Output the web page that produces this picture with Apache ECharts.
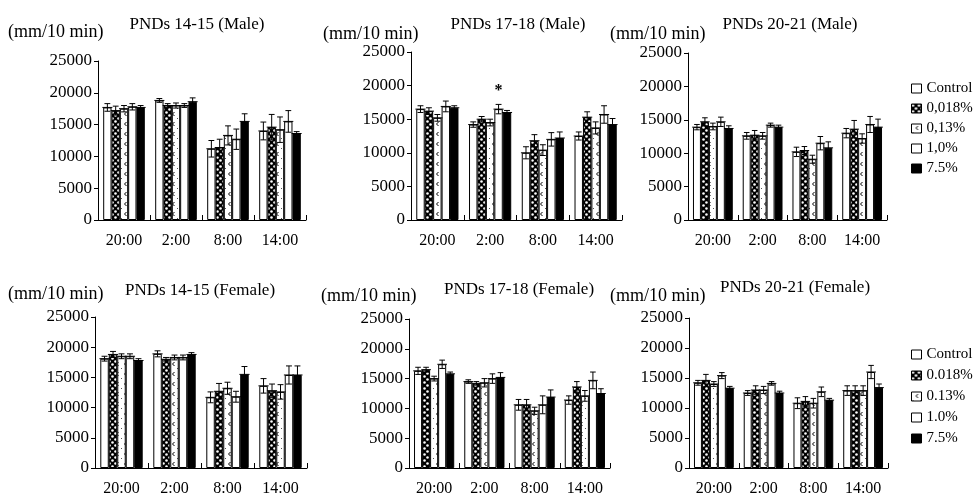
<!DOCTYPE html>
<html><head><meta charset="utf-8">
<script src="https://cdn.jsdelivr.net/npm/echarts@6/dist/echarts.min.js"></script>
<style>html,body{margin:0;padding:0;background:#fff}#c{width:974px;height:497px}</style>
</head><body><div id="c"></div>
<script>
const categories = ['20:00', '2:00', '8:00', '14:00'];
const groups = ['Control', '0.018%', '0.13%', '1.0%', '7.5%'];
const legendLabels = [['Control', '0,018%', '0,13%', '1,0%', '7.5%'], ['Control', '0.018%', '0.13%', '1.0%', '7.5%']];
const yMin = 0, yMax = 25000, yStep = 5000;
const unitLabel = '(mm/10 min)';
const panelTitles = ['PNDs 14-15 (Male)', 'PNDs 17-18 (Male)', 'PNDs 20-21 (Male)',
                     'PNDs 14-15 (Female)', 'PNDs 17-18 (Female)', 'PNDs 20-21 (Female)'];

// mean values: one row per group (Control, 0.018%, 0.13%, 1.0%, 7.5%), columns = categories
const male1415 = [
  [17700, 18800, 11200, 14000],
  [17200, 18000, 11400, 14600],
  [17500, 18000, 13300, 14200],
  [17800, 18000, 12700, 15500],
  [17700, 18600, 15500, 13600]];
const male1718 = [
  [16500, 14200, 10000, 12500],
  [16200, 15000, 11800, 15300],
  [15200, 14500, 10400, 13700],
  [16900, 16500, 12000, 15700],
  [16700, 16000, 12200, 14200]];
const male2021 = [
  [13900, 12600, 10200, 13000],
  [14700, 12700, 10400, 13600],
  [14000, 12600, 9100, 12200],
  [14700, 14200, 11500, 14300],
  [13700, 13900, 10800, 13900]];
const female1415 = [
  [18100, 18900, 11700, 13600],
  [18800, 18000, 12700, 12800],
  [18500, 18300, 13200, 12600],
  [18500, 18300, 11800, 15400],
  [17800, 18800, 15500, 15400]];
const female1718 = [
  [16300, 14500, 10600, 11400],
  [16500, 14200, 10600, 13600],
  [15000, 14300, 9600, 12100],
  [17400, 15000, 10600, 14700],
  [15800, 15200, 11900, 12500]];
const female2021 = [
  [14200, 12500, 10800, 12900],
  [14600, 13000, 11100, 12900],
  [14000, 13000, 10800, 12900],
  [15400, 14100, 12700, 16000],
  [13300, 12500, 11300, 13400]];

// error (SE) values, same shape
const male1415Err = [
  [600, 300, 1300, 1400], [700, 300, 1300, 2000], [500, 400, 1500, 2000], [500, 300, 1600, 1700], [300, 600, 1200, 300]];
const male1718Err = [
  [500, 400, 900, 600], [500, 400, 900, 800], [500, 500, 800, 900], [800, 700, 1000, 1300], [300, 300, 900, 900]];
const male2021Err = [
  [400, 500, 700, 700], [600, 700, 600, 1300], [500, 500, 600, 700], [700, 300, 1000, 1200], [400, 300, 900, 1200]];
const female1415Err = [
  [400, 500, 900, 1200], [500, 300, 1300, 1100], [400, 400, 1000, 1200], [400, 400, 900, 1500], [300, 300, 1300, 1500]];
const female1718Err = [
  [600, 300, 900, 700], [400, 300, 900, 900], [400, 700, 600, 900], [700, 800, 1500, 1400], [300, 800, 1200, 800]];
const female2021Err = [
  [400, 400, 900, 800], [1000, 700, 800, 800], [400, 600, 800, 800], [500, 300, 800, 1100], [300, 300, 300, 600]];

// significance marks: [panelIndex, categoryIndex, groupIndex]
const sigMarks = [[1, 1, 3]];

const panelValues = [male1415, male1718, male2021, female1415, female1718, female2021];
const panelErrors = [male1415Err, male1718Err, male2021Err, female1415Err, female1718Err, female2021Err];

// ---------- layout & styling ----------
const FONT = '"Liberation Serif", "DejaVu Serif", serif';
const grids = [
  {left: 98, top: 61, width: 208, height: 159},
  {left: 411, top: 52, width: 211, height: 168},
  {left: 688, top: 53, width: 199, height: 167},
  {left: 95, top: 317, width: 212, height: 153},
  {left: 409, top: 319, width: 201, height: 151},
  {left: 689, top: 318, width: 199, height: 152}];
const unitPos = [[8, 33], [323, 35], [610, 35], [8, 295], [321, 297], [610, 297]];
const titlePos = [[197, 25], [518, 25], [790, 25], [200, 291], [519, 290], [795, 288]];

function makePattern(kind) {
  const c = document.createElement('canvas');
  if (kind === 'dots') {
    c.width = 6; c.height = 6;
    const g = c.getContext('2d');
    g.fillStyle = '#000'; g.fillRect(0, 0, 6, 6);
    g.fillStyle = '#fff';
    g.beginPath(); g.arc(1.5, 1.5, 1.3, 0, Math.PI * 2); g.fill();
    g.beginPath(); g.arc(4.5, 4.5, 1.3, 0, Math.PI * 2); g.fill();
  } else {
    c.width = 8; c.height = 10;
    const g = c.getContext('2d');
    g.fillStyle = '#fff'; g.fillRect(0, 0, 8, 10);
    g.strokeStyle = '#000'; g.lineWidth = 1;
    g.beginPath(); g.moveTo(6.5, 2); g.lineTo(4.5, 4); g.lineTo(6.5, 6); g.stroke();
    g.fillStyle = '#555'; g.fillRect(1, 8, 1, 1);
  }
  return {image: c, repeat: 'repeat'};
}
const fills = ['#ffffff', makePattern('dots'), makePattern('marks'), '#ffffff', '#000000'];

const option = {
  animation: false,
  backgroundColor: '#fff',
  textStyle: {fontFamily: FONT, color: '#000'},
  grid: grids,
  xAxis: grids.map((g, i) => ({
    type: 'category', gridIndex: i, data: categories,
    axisLine: {lineStyle: {color: '#000', width: 1}},
    axisTick: {show: true, inside: true, length: 5, lineStyle: {color: '#000'}},
    axisLabel: {color: '#000', fontFamily: FONT, fontSize: 16, margin: 13},
    splitLine: {show: false}
  })),
  yAxis: grids.map((g, i) => ({
    type: 'value', gridIndex: i, min: yMin, max: yMax, interval: yStep,
    axisLine: {show: true, lineStyle: {color: '#000', width: 1}},
    axisTick: {show: true, length: 4, lineStyle: {color: '#000'}},
    axisLabel: {color: '#000', fontFamily: FONT, fontSize: 17, margin: 6, formatter: v => String(v)},
    splitLine: {show: false}
  })),
  legend: [0, 1].map(k => ({
    orient: 'vertical', left: 906, top: k === 0 ? 76 : 342,
    itemWidth: 10, itemHeight: 9, itemGap: k === 0 ? 5 : 6,
    icon: 'rect', selectedMode: false,
    data: groups,
    formatter: name => legendLabels[k][groups.indexOf(name)],
    textStyle: {fontFamily: FONT, fontSize: 15, color: '#000', padding: [0, 0, 0, 0]},
    itemStyle: {borderColor: '#000', borderWidth: 1}
  })),
  graphic: [],
  series: []
};

panelTitles.forEach((t, p) => {
  option.graphic.push({type: 'text', left: unitPos[p][0], top: unitPos[p][1] - 10,
    style: {text: unitLabel, font: '18px ' + FONT, fill: '#000'}});
  option.graphic.push({type: 'text', x: titlePos[p][0], y: titlePos[p][1],
    style: {text: t, font: '17px ' + FONT, fill: '#000', align: 'center', verticalAlign: 'middle'}});
});

panelValues.forEach((vals, p) => {
  groups.forEach((gname, s) => {
    option.series.push({
      type: 'bar', name: gname, xAxisIndex: p, yAxisIndex: p,
      barGap: '0%', barCategoryGap: '20%',
      itemStyle: {color: fills[s], borderColor: '#000', borderWidth: 1},
      data: vals[s].map((v, ci) => {
        const mark = sigMarks.find(m => m[0] === p && m[1] === ci && m[2] === s);
        if (!mark) return v;
        return {value: v, label: {show: true, position: 'top', distance: 10, formatter: '*',
          fontSize: 16, fontWeight: 'bold', color: '#000', fontFamily: FONT}};
      })
    });
  });
  const errData = [];
  vals.forEach((row, s) => row.forEach((v, ci) => errData.push([ci, v, s, panelErrors[p][s][ci]])));
  option.series.push({
    type: 'custom', xAxisIndex: p, yAxisIndex: p, silent: true, z: 5,
    encode: {x: 0, y: 1},
    data: errData,
    renderItem: (params, api) => {
      const ci = api.value(0), v = api.value(1), s = api.value(2), e = api.value(3);
      const band = api.size([1, 0])[0];
      const bw = band * 0.8 / 5;
      const base = api.coord([ci, v]);
      const x = base[0] + (s - 2) * bw;
      const yt = api.coord([ci, v + e])[1];
      const yb = api.coord([ci, v - e])[1];
      const cw = bw * 0.35;
      const ls = {stroke: '#000', lineWidth: 1};
      return {type: 'group', children: [
        {type: 'line', shape: {x1: x, y1: yt, x2: x, y2: yb}, style: ls},
        {type: 'line', shape: {x1: x - cw, y1: yt, x2: x + cw, y2: yt}, style: ls},
        {type: 'line', shape: {x1: x - cw, y1: yb, x2: x + cw, y2: yb}, style: ls},
        {type: 'line', shape: {x1: x - bw * 0.6, y1: base[1], x2: x + bw * 0.6, y2: base[1]}, style: ls}
      ]};
    }
  });
});

const chart = echarts.init(document.getElementById('c'), null, {renderer: 'canvas'});
chart.setOption(option);
</script></body></html>
